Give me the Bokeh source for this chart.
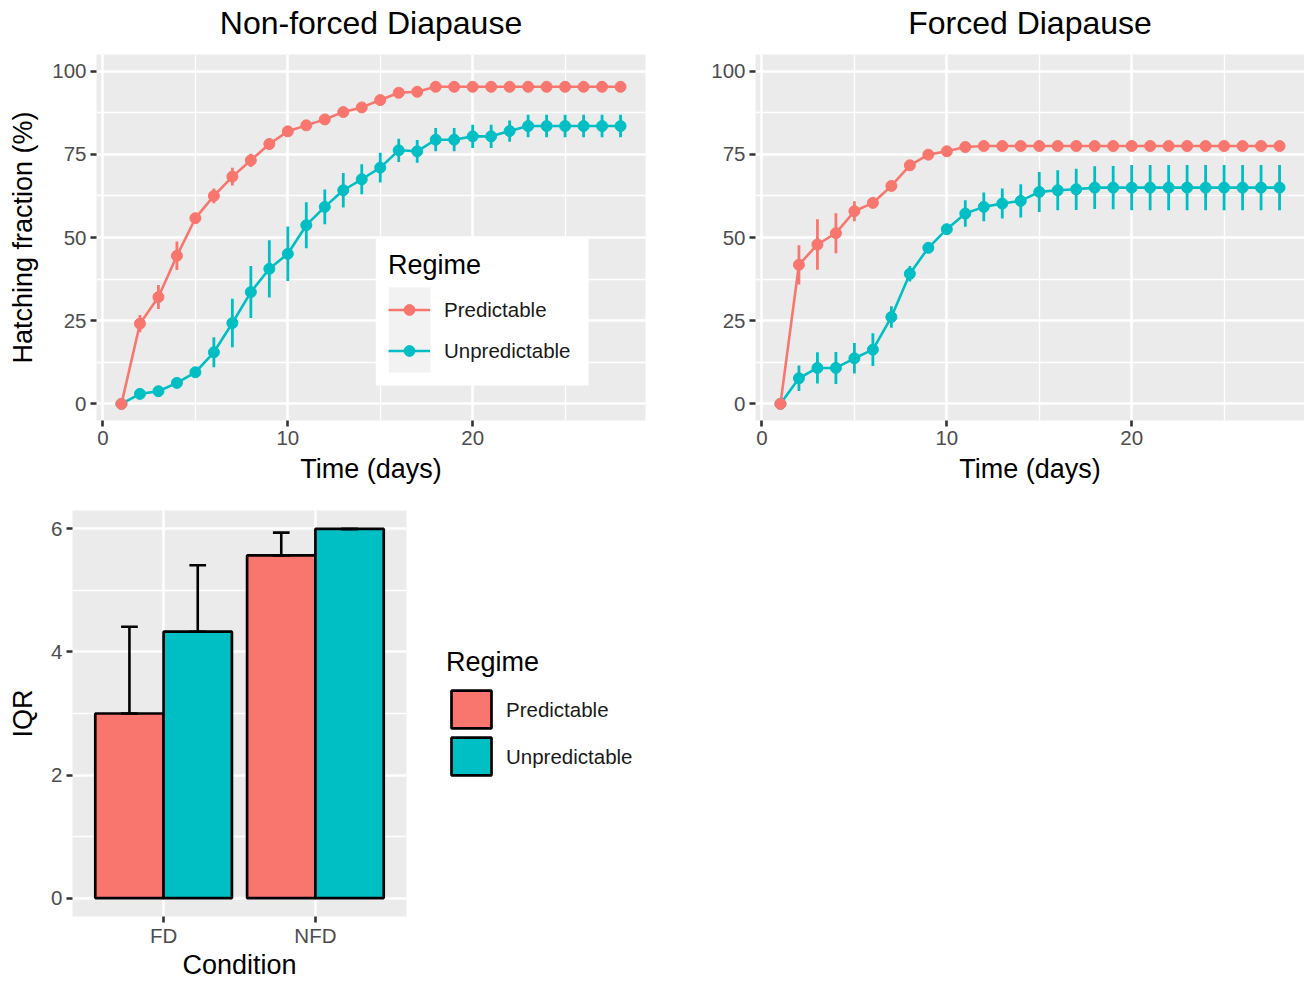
from bokeh.plotting import figure
from bokeh.models import (ColumnDataSource, FixedTicker, Legend, LegendItem,
                          BoxAnnotation, Range1d)
from bokeh.layouts import column, row
from bokeh.embed import file_html
from bokeh.resources import INLINE

# ---------------- data ----------------
days = [1, 2, 3, 4, 5, 6, 7, 8, 9, 10, 11, 12, 13, 14,
        15, 16, 17, 18, 19, 20, 21, 22, 23, 24, 25, 26, 27, 28]

# Non-forced diapause
nfd_pred_mean = [0, 24.1, 32.1, 44.5, 55.8, 62.5, 68.3, 73.2, 78.1, 81.9, 83.7, 85.5, 87.7, 89.1,
                 91.3, 93.5, 93.8, 95.3, 95.3, 95.3, 95.3, 95.3, 95.3, 95.3, 95.3, 95.3, 95.3, 95.3]
nfd_pred_err = [0, 2.6, 3.6, 4.3, 1.5, 2.2, 2.7, 2.0, 1.8, 1.5, 1.2, 1.2, 1.0, 1.0,
                0.8, 0.8, 0.8, 0.6, 0.6, 0.6, 0.6, 0.6, 0.6, 0.6, 0.6, 0.6, 0.6, 0.6]
nfd_unpred_mean = [0, 3.0, 3.8, 6.3, 9.5, 15.5, 24.3, 33.6, 40.6, 45.1, 53.7, 59.2, 64.2, 67.5,
                   71.0, 76.2, 75.9, 79.4, 79.4, 80.4, 80.4, 82.0, 83.5, 83.5, 83.5, 83.5, 83.5, 83.5]
nfd_unpred_err = [0, 1.0, 1.0, 1.0, 1.5, 4.5, 7.3, 7.8, 8.6, 8.2, 6.9, 5.2, 5.2, 4.5,
                  4.5, 3.5, 3.4, 3.5, 3.5, 3.5, 3.5, 3.2, 3.4, 3.4, 3.4, 3.4, 3.4, 3.4]

# Forced diapause
fd_pred_mean = [0, 41.8, 47.9, 51.3, 57.9, 60.4, 65.5, 71.7, 74.9, 75.9, 77.2, 77.5, 77.5, 77.5,
                77.5, 77.5, 77.5, 77.5, 77.5, 77.5, 77.5, 77.5, 77.5, 77.5, 77.5, 77.5, 77.5, 77.5]
fd_pred_err = [0, 5.9, 7.6, 6.0, 3.0, 1.0, 0.8, 1.0, 0.8, 0.5, 0.5, 0.5, 0.5, 0.5,
               0.5, 0.5, 0.5, 0.5, 0.5, 0.5, 0.5, 0.5, 0.5, 0.5, 0.5, 0.5, 0.5, 0.5]
fd_unpred_mean = [0, 7.7, 10.8, 10.8, 13.7, 16.3, 26.1, 39.1, 46.9, 52.5, 57.2, 59.2, 60.2, 61.0,
                  63.7, 64.2, 64.5, 65.0, 65.0, 65.0, 65.0, 65.0, 65.0, 65.0, 65.0, 65.0, 65.0, 65.0]
fd_unpred_err = [0, 3.8, 4.7, 4.8, 4.6, 4.9, 3.2, 2.3, 1.5, 1.5, 4.0, 4.3, 4.5, 5.0,
                 6.0, 6.0, 6.2, 6.4, 6.5, 6.8, 6.8, 6.8, 6.8, 6.8, 6.8, 6.8, 6.8, 6.8]

# IQR bar chart
conditions = ["FD", "NFD"]
iqr_pred = [3.0, 5.57]
iqr_pred_err = [1.41, 0.37]
iqr_unpred = [4.33, 6.0]
iqr_unpred_err = [1.08, 0.0]

regimes = ["Predictable", "Unpredictable"]
x_ticks = [0, 10, 20]
x_minor = [5, 15, 25]
y_ticks = [0, 25, 50, 75, 100]
y_minor = [12.5, 37.5, 62.5, 87.5]
iqr_ticks = [0, 2, 4, 6]
iqr_minor = [1, 3, 5]

# ---------------- style ----------------
RED = "#F8766D"
CYAN = "#00BFC4"
FONT = "Liberation Sans"
TICK_FS = "20.5px"
AXT_FS = "27px"
TITLE_FS = "32px"
PANEL = "#EBEBEB"


def style_axes(p):
    p.background_fill_color = PANEL
    p.border_fill_color = "white"
    p.outline_line_color = None
    for ax in p.axis:
        ax.axis_line_color = None
        ax.major_tick_line_color = "#333333"
        ax.major_tick_line_width = 2.6
        ax.major_tick_out = 6
        ax.major_tick_in = 0
        ax.minor_tick_line_color = None
        ax.major_label_text_font = FONT
        ax.major_label_text_font_size = TICK_FS
        ax.major_label_text_color = "#4D4D4D"
        ax.axis_label_text_font = FONT
        ax.axis_label_text_font_size = AXT_FS
        ax.axis_label_text_font_style = "normal"
        ax.axis_label_text_color = "black"
    p.grid.grid_line_color = "white"
    p.grid.grid_line_width = 2.6
    p.grid.minor_grid_line_color = "white"
    p.grid.minor_grid_line_width = 1.3


def line_panel(title, pm, pe, um, ue, ylabel, left_border, right_border):
    p = figure(frame_width=549, frame_height=366,
               x_range=Range1d(-0.35, 29.35), y_range=Range1d(-5, 105),
               output_backend="svg", toolbar_location=None,
               min_border_left=left_border, min_border_right=right_border,
               min_border_top=54, min_border_bottom=70)
    p.title.text = title
    p.title.text_font = FONT
    p.title.text_font_size = TITLE_FS
    p.title.text_font_style = "normal"
    p.title.text_color = "black"
    p.title.align = "center"
    p.title.standoff = 0
    p.title.padding = dict(left=0, right=0, top=0, bottom=14)
    style_axes(p)
    p.xaxis.ticker = FixedTicker(ticks=x_ticks, minor_ticks=x_minor)
    p.yaxis.ticker = FixedTicker(ticks=y_ticks, minor_ticks=y_minor)
    p.xaxis.axis_label = "Time (days)"
    p.xaxis.major_label_standoff = 4
    p.xaxis.axis_label_standoff = 6
    p.yaxis.major_label_standoff = 4
    if ylabel:
        p.yaxis.axis_label = ylabel
        p.yaxis.axis_label_standoff = 11

    srcs = []
    for mean, err, color in [(um, ue, CYAN), (pm, pe, RED)]:
        src = ColumnDataSource(dict(x=days, y=mean,
                                    lo=[m - e for m, e in zip(mean, err)],
                                    hi=[m + e for m, e in zip(mean, err)]))
        srcs.append((src, color))
    lines = {}
    for src, color in srcs:
        lines[color] = p.line("x", "y", source=src, line_color=color, line_width=2.6)
    pts = {}
    for src, color in srcs:
        p.segment(x0="x", y0="lo", x1="x", y1="hi", source=src,
                  line_color=color, line_width=2.8)
        pts[color] = p.scatter("x", "y", source=src, size=11,
                               fill_color=color, line_color=color)
    return p, lines, pts


p1, l1, s1 = line_panel("Non-forced Diapause", nfd_pred_mean, nfd_pred_err,
                        nfd_unpred_mean, nfd_unpred_err, "Hatching fraction (%)", 96, 22)
p2, l2, s2 = line_panel("Forced Diapause", fd_pred_mean, fd_pred_err,
                        fd_unpred_mean, fd_unpred_err, None, 88, 0)

# legend background & key background (legend is drawn transparent on top)
p1.add_layout(BoxAnnotation(left=14.76, right=26.27, bottom=5.5, top=49.8,
                            fill_color="white", fill_alpha=1, line_alpha=0))
p1.add_layout(BoxAnnotation(left=15.46, right=17.73, bottom=9.4, top=35.0,
                            fill_color="#F2F2F2", fill_alpha=1, line_alpha=0))
leg1 = Legend(items=[LegendItem(label=regimes[0], renderers=[l1[RED], s1[RED]]),
                     LegendItem(label=regimes[1], renderers=[l1[CYAN], s1[CYAN]])],
              title="Regime", location=(279, 43), margin=0, padding=13,
              spacing=14, glyph_width=42, glyph_height=27, label_height=27,
              label_standoff=14, title_standoff=15,
              background_fill_alpha=0, border_line_alpha=0)
leg1.title_text_font = FONT
leg1.title_text_font_size = AXT_FS
leg1.title_text_font_style = "normal"
leg1.title_text_color = "black"
leg1.label_text_font = FONT
leg1.label_text_font_size = TICK_FS
leg1.label_text_color = "#1A1A1A"
p1.add_layout(leg1)

# ---------------- bar chart ----------------
p3 = figure(frame_width=334, frame_height=406,
            x_range=Range1d(0.4, 2.6), y_range=Range1d(-0.3, 6.3),
            output_backend="svg", toolbar_location=None,
            min_border_left=72, min_border_right=0,
            min_border_top=20, min_border_bottom=58)
style_axes(p3)
cond_x = [i + 1 for i in range(len(conditions))]
p3.xaxis.ticker = FixedTicker(ticks=cond_x, minor_ticks=[])
p3.xaxis.major_label_overrides = {x: c for x, c in zip(cond_x, conditions)}
p3.yaxis.ticker = FixedTicker(ticks=iqr_ticks, minor_ticks=iqr_minor)
p3.xaxis.axis_label = "Condition"
p3.yaxis.axis_label = "IQR"
p3.xaxis.major_label_standoff = 1
p3.xaxis.axis_label_standoff = 0
p3.yaxis.major_label_standoff = 4
p3.yaxis.axis_label_standoff = 10

BAR_W = 0.45
CAP = 0.055
bars = {}
for vals, errs, color, shift in [(iqr_pred, iqr_pred_err, RED, -BAR_W / 2),
                                 (iqr_unpred, iqr_unpred_err, CYAN, BAR_W / 2)]:
    xs = [c + shift for c in cond_x]
    src = ColumnDataSource(dict(x=xs, top=vals,
                                hi=[v + e for v, e in zip(vals, errs)],
                                cl=[x - CAP for x in xs], cr=[x + CAP for x in xs]))
    bars[color] = p3.vbar(x="x", top="top", bottom=0, width=BAR_W, source=src,
                          fill_color=color, line_color="black", line_width=2.7)
    bars[color + "src"] = src

for color in [RED, CYAN]:
    src = bars[color + "src"]
    p3.segment(x0="x", y0="top", x1="x", y1="hi", source=src,
               line_color="black", line_width=2.6)
    p3.segment(x0="cl", y0="hi", x1="cr", y1="hi", source=src,
               line_color="black", line_width=2.6)
    p3.segment(x0="cl", y0="top", x1="cr", y1="top", source=src,
               line_color="black", line_width=2.6)

leg3 = Legend(items=[LegendItem(label=regimes[0], renderers=[bars[RED]]),
                     LegendItem(label=regimes[1], renderers=[bars[CYAN]])],
              title="Regime", location="center_left", margin=34, padding=6,
              spacing=-5, glyph_width=50, glyph_height=47, label_standoff=10,
              title_standoff=8, background_fill_alpha=0, border_line_alpha=0)
leg3.title_text_font = FONT
leg3.title_text_font_size = AXT_FS
leg3.title_text_font_style = "normal"
leg3.title_text_color = "black"
leg3.label_text_font = FONT
leg3.label_text_font_size = TICK_FS
leg3.label_text_color = "#1A1A1A"
p3.add_layout(leg3, "right")

layout = column(row(p1, p2), p3)
open("out.html", "w").write(file_html(layout, INLINE))
